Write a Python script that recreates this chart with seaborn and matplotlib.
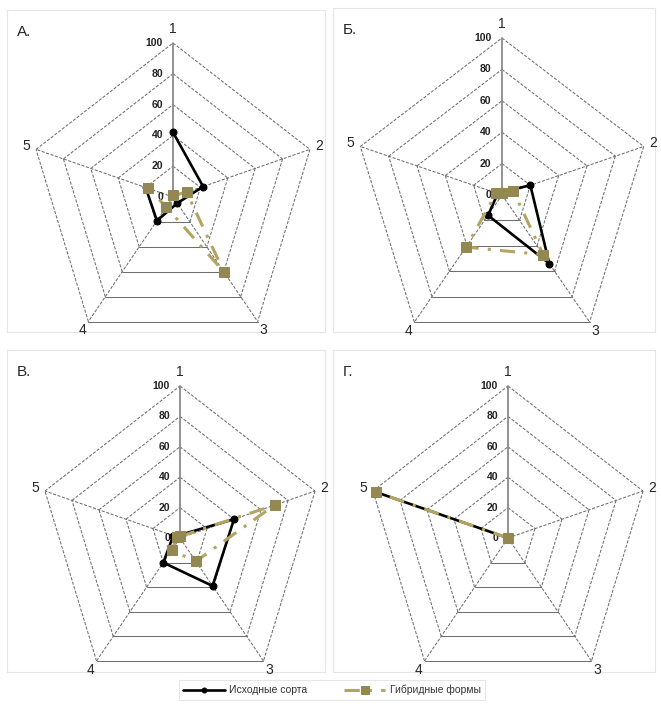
import numpy as np
import pandas as pd
import matplotlib
matplotlib.use("Agg")
import matplotlib.pyplot as plt
import seaborn as sns

sns.set_theme(style="white")
plt.rcParams['font.family'] = ['Liberation Sans', 'DejaVu Sans']

# данные
axes_labels = ["1", "2", "3", "4", "5"]
panel_names = ["А.", "Б.", "В.", "Г."]
ring_levels = [0, 20, 40, 60, 80, 100]

ishodnye_A = [42, 22, 5, 19, 20]
gibrid_A = [1, 10, 60, 8, 18]
ishodnye_B = [2, 20, 54, 16, 3]
gibrid_B = [1, 8, 47, 41, 4]
ishodnye_V = [2, 40, 39, 20, 5]
gibrid_V = [1, 70, 19, 10, 2]
ishodnye_G = [0, 0, 0, 0, 98]
gibrid_G = [0, 0, 0, 0, 98]

series_names = ["Исходные сорта", "Гибридные формы"]
panels = [(ishodnye_A, gibrid_A), (ishodnye_B, gibrid_B),
          (ishodnye_V, gibrid_V), (ishodnye_G, gibrid_G)]

W, H = 661, 707
# центр радара (px), масштаб px на единицу по x и y, рамка панели (px)
layout = [
    ((173, 197), (1.44, 1.54), (7, 10, 318, 322)),
    ((502, 195), (1.49, 1.57), (333, 8, 322, 324)),
    ((180, 538), (1.42, 1.52), (7, 350, 318, 322)),
    ((508, 538), (1.42, 1.52), (333, 350, 322, 322)),
]

angles = np.deg2rad(90 - 72 * np.arange(5))


def to_xy(vals, closed=False):
    v = np.asarray(vals, dtype=float)
    a = angles
    if closed:
        v = np.append(v, v[0])
        a = np.append(a, a[0])
    return v * np.cos(a), v * np.sin(a)


black = "#000000"
gold_line = "#b3a461"
gold_mark = "#948852"
grid_c = "#6e6e6e"

fig = plt.figure(figsize=(W / 100, H / 100), dpi=100)

handles = None
for (ish, gib), name, ((cx, cy), (sx, sy), (x0, y0, w, h)) in zip(panels, panel_names, layout):
    ax = fig.add_axes([x0 / W, 1 - (y0 + h) / H, w / W, h / H])
    ax.set_xlim((x0 - cx) / sx, (x0 + w - cx) / sx)
    ax.set_ylim((cy - (y0 + h)) / sy, (cy - y0) / sy)
    ax.set_xticks([])
    ax.set_yticks([])
    for sp in ax.spines.values():
        sp.set_color("#e6e6e6")
        sp.set_linewidth(0.8)

    # пятиугольная сетка
    for lev in ring_levels[1:]:
        gx, gy = to_xy([lev] * 5)
        for i in range(5):
            j = (i + 1) % 5
            ls = "-" if i == 2 else (0, (3, 1.5))
            ax.plot([gx[i], gx[j]], [gy[i], gy[j]], color=grid_c, lw=0.75, ls=ls, zorder=1)
    ox, oy = to_xy([100] * 5)
    for i in range(5):
        ls = "-" if i == 0 else (0, (3, 1.5))
        lw = 1.3 if i == 0 else 0.75
        c = "#8a8a8a" if i == 0 else grid_c
        ax.plot([0, ox[i]], [0, oy[i]], color=c, lw=lw, ls=ls, zorder=1)

    for lev in ring_levels:
        ax.text(-7, lev, str(lev), ha="right", va="center", fontsize=7.5,
                color="#222222", fontweight="bold")
    for i, lab in enumerate(axes_labels):
        lx, ly = np.cos(angles[i]) * 107, np.sin(angles[i]) * 107
        if i == 0:
            ly = 109
        ax.text(lx, ly, lab, ha="center", va="center", fontsize=10)

    ax.text((x0 + 10 - cx) / sx, (cy - y0 - 22) / sy, name, ha="left", va="center", fontsize=11)

    rows = []
    for sname, vals in zip(series_names, (ish, gib)):
        xs, ys = to_xy(vals, closed=True)
        for k, (xx, yy) in enumerate(zip(xs, ys)):
            rows.append({"x": xx, "y": yy, "series": sname, "order": k})
    df = pd.DataFrame(rows)

    sns.lineplot(data=df[df.series == series_names[0]], x="x", y="y", sort=False,
                 color=black, lw=1.9, marker="o", markersize=5, markeredgecolor=black,
                 ax=ax, label=series_names[0], zorder=3, legend=False)
    sns.lineplot(data=df[df.series == series_names[1]], x="x", y="y", sort=False,
                 color=gold_line, lw=2.2, ls=(0, (5, 3, 1, 3)), marker="s", markersize=7.5,
                 markerfacecolor=gold_mark, markeredgecolor=gold_mark,
                 ax=ax, label=series_names[1], zorder=4, legend=False)
    ax.set_xlabel("")
    ax.set_ylabel("")
    if handles is None:
        handles = ax.get_lines()[-2:]

leg = fig.legend(handles, series_names, loc="center", bbox_to_anchor=(332 / W, 1 - 690 / H),
                 ncol=2, fontsize=7.5, frameon=True, handlelength=4, columnspacing=3.5,
                 borderpad=0.45, fancybox=False, markerscale=0.7, handletextpad=0.4,
                 borderaxespad=0.3)
for t in leg.get_texts():
    t.set_color("#333333")
leg.get_frame().set_edgecolor("#e0e0e0")
leg.get_frame().set_linewidth(0.8)

fig.savefig("out.png", dpi=100)
